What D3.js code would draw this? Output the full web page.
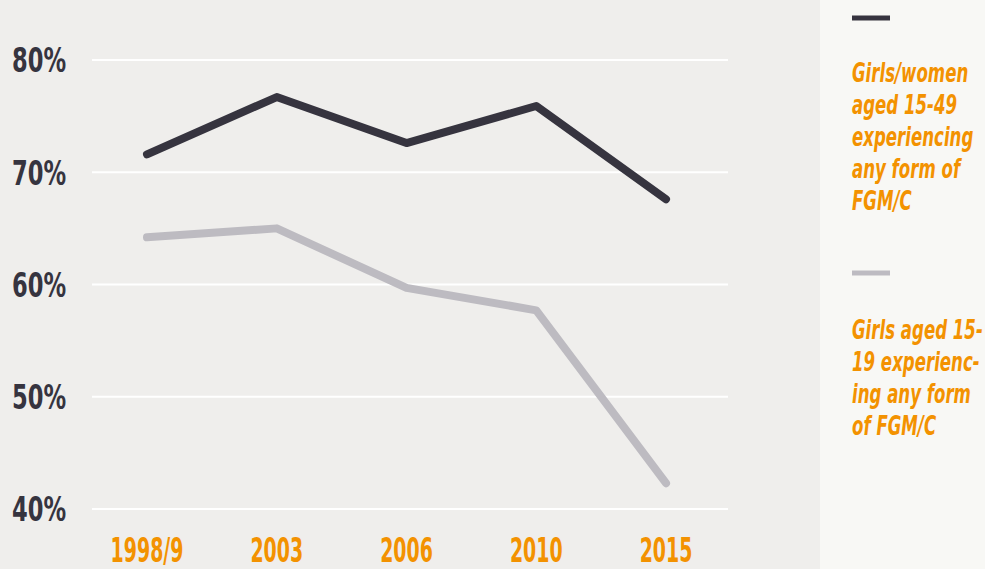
<!DOCTYPE html>
<html>
<head>
<meta charset="utf-8">
<script src="https://cdn.jsdelivr.net/npm/d3@7"></script>
<style>
  html, body { margin: 0; padding: 0; background: #efeeec; }
  svg { display: block; }
  .cond { font-family: "DejaVu Sans Condensed", "Liberation Sans Narrow", "Roboto", sans-serif; font-stretch: condensed; }
</style>
</head>
<body>
<div id="chart"></div>
<script>
// data
const years = ['1998/9', '2003', '2006', '2010', '2015'];
const women1549 = [71.6, 76.7, 72.6, 75.9, 67.6];
const girls1519 = [64.2, 65.0, 59.7, 57.7, 42.3];
const yTicks = [40, 50, 60, 70, 80];
const legendLabels = [
  ['Girls/women', 'aged 15-49', 'experiencing', 'any form of', 'FGM/C'],
  ['Girls aged 15-', '19 experienc-', 'ing any form', 'of FGM/C']
];

// settings
const width = 985;
const height = 569;
const dark = '#36343f';
const light = '#bdbbc1';
const orange = '#f39200';

const svg = d3.select('#chart')
  .append('svg')
  .attr('width', width)
  .attr('height', height);

svg.append('rect')
  .attr('width', width).attr('height', height)
  .attr('fill', '#efeeec');

// right legend panel
svg.append('rect')
  .attr('x', 820).attr('y', 0)
  .attr('width', width - 820).attr('height', height)
  .attr('fill', '#f8f8f5');

const x = d3.scalePoint()
  .domain(years)
  .range([147, 666]);

const y = d3.scaleLinear()
  .domain([40, 80])
  .range([509, 60]);

// gridlines
svg.append('g')
  .selectAll('line')
  .data(yTicks)
  .join('line')
  .attr('x1', 92)
  .attr('x2', 728)
  .attr('y1', d => y(d))
  .attr('y2', d => y(d))
  .attr('stroke', '#ffffff')
  .attr('stroke-width', 2);

// y labels (condensed face is squeezed horizontally to match the narrow original)
svg.append('g')
  .selectAll('text')
  .data(yTicks)
  .join('text')
  .attr('class', 'cond')
  .attr('transform', d => `translate(12,${y(d)}) scale(0.74,1)`)
  .attr('dy', '0.36em')
  .attr('fill', dark)
  .attr('font-size', 34)
  .attr('font-weight', 'bold')
  .text(d => d + '%');

// x labels
svg.append('g')
  .selectAll('text')
  .data(years)
  .join('text')
  .attr('class', 'cond')
  .attr('transform', d => `translate(${x(d)},562) scale(0.62,1)`)
  .attr('text-anchor', 'middle')
  .attr('fill', orange)
  .attr('font-size', 34)
  .attr('font-weight', 'bold')
  .text(d => d);

const line = d3.line()
  .x((d, i) => x(years[i]))
  .y(d => y(d));

const series = [
  { values: girls1519, color: light },
  { values: women1549, color: dark }
];

svg.append('g')
  .attr('fill', 'none')
  .attr('stroke-width', 8)
  .attr('stroke-linecap', 'round')
  .attr('stroke-linejoin', 'round')
  .selectAll('path')
  .data(series)
  .join('path')
  .attr('stroke', d => d.color)
  .attr('d', d => line(d.values));

// legend
const legendItems = [
  { color: dark, lineY: 18, textY: 82, lines: legendLabels[0] },
  { color: light, lineY: 273, textY: 339, lines: legendLabels[1] }
];

const legend = svg.append('g');
legendItems.forEach(item => {
  legend.append('line')
    .attr('x1', 852).attr('x2', 890)
    .attr('y1', item.lineY).attr('y2', item.lineY)
    .attr('stroke', item.color)
    .attr('stroke-width', 5);
  legend.append('g')
    .attr('transform', `translate(852,0) scale(0.71,1)`)
    .append('text')
    .attr('class', 'cond')
    .attr('fill', orange)
    .attr('font-size', 26)
    .attr('font-weight', 'bold')
    .attr('font-style', 'italic')
    .selectAll('tspan')
    .data(item.lines)
    .join('tspan')
    .attr('x', 0)
    .attr('y', (d, i) => item.textY + i * 32)
    .text(d => d);
});
</script>
</body>
</html>
